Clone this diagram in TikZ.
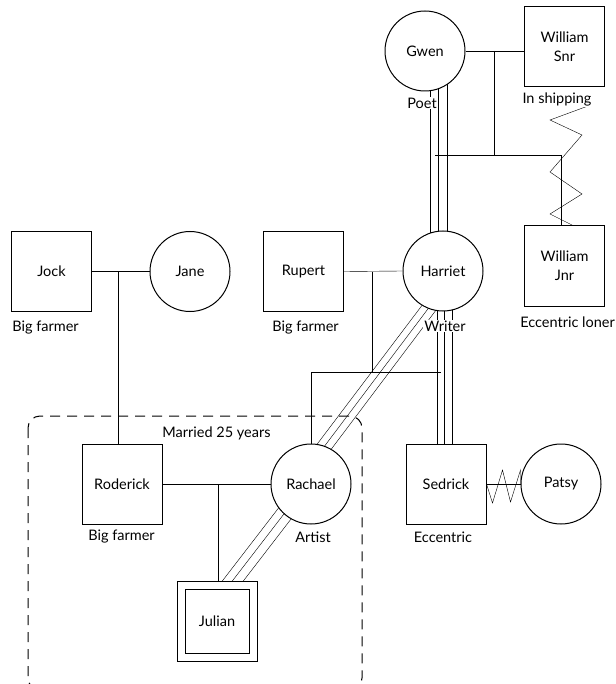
\documentclass[tikz,border=0pt]{standalone}
\usepackage{fontspec}
\setmainfont{Lato}
\usetikzlibrary{backgrounds,calc}
\begin{document}
\begin{tikzpicture}[x=1pt,y=-1pt, line width=1pt,
  every node/.style={font=\fontsize{14.5}{19}\selectfont},
  male/.style={draw, rectangle, minimum size=80pt, inner sep=0pt, fill=white, align=center},
  female/.style={draw, circle, minimum size=80pt, inner sep=0pt, fill=white},
  lab/.style={fill=white, inner sep=1pt},
  boxline/.style={dash pattern=on 10pt off 7pt, rounded corners=12pt, line width=1pt}]
\useasboundingbox (0,0) rectangle (615,684);
% people
\node[female] (gwen) at (425,51) {Gwen};
\node[male] (wsnr) at (564.5,47) {William\\Snr};
\node[female] (harriet) at (443,271) {Harriet};
\node[male] (wjnr) at (564.5,266) {William\\Jnr};
\node[male] (rupert) at (303.5,271.5) {Rupert};
\node[male] (jock) at (51.5,271.5) {Jock};
\node[female] (jane) at (190,271.5) {Jane};
\node[male] (roderick) at (122,484) {Roderick};
\node[female] (rachael) at (311,484) {Rachael};
\node[male] (sedrick) at (446,484) {Sedrick};
\node[female] (patsy) at (561,484) {Patsy};
\node[male] (julian) at (217,621) {};
\node[draw, fill=white, minimum size=64pt, inner sep=0pt] (julianin) at (julian) {Julian};
% labels
\node[lab] (lpoet) at (422,103) {Poet};
\node[lab] (lship) at (557,99) {In shipping};
\node[lab] (ljock) at (45.5,328) {Big farmer};
\node[lab] (lrup) at (305.5,328) {Big farmer};
\node[lab] (lwriter) at (445,326) {Writer};
\node[lab] (lloner) at (567.5,322) {Eccentric loner};
\node[lab] (lmarried) at (216.5,433) {Married 25 years};
\node[lab] (lrod) at (121.5,537) {Big farmer};
\node[lab] (lartist) at (313,537) {Artist};
\node[lab] (lecc) at (443,537) {Eccentric};
% connectors
\begin{scope}[on background layer]
  \draw[boxline] (28,416) rectangle (362,690);
  % Gwen - William Snr
  \draw (gwen.east) -- (gwen.east -| wsnr.west);
  \coordinate (gwm) at ($(gwen.east)!0.5!(gwen.east -| wsnr.west)$);
  \coordinate (sibL) at (435,155);
  \coordinate (sibR) at (561,155);
  \draw[line width=0.7pt] (gwm) -- (gwm |- sibL);
  \draw (sibL) -- (sibR) -- (sibR |- wjnr.north);
  % conflict William Snr - William Jnr
  \coordinate (zz0) at (588,106);
  \draw (zz0) -- (550,120) -- (582,135) -- (550,172) -- (582,194) -- (550,214) -- ([xshift=8.5pt]wjnr.north);
  % Gwen - Harriet (fused)
  \foreach \dx in {5,13,22}
    \draw ([xshift=\dx pt]gwen.center) -- ([xshift=\dx pt]gwen.center |- harriet.center);
  % Harriet - Sedrick (fused)
  \foreach \dx in {-6,1,9}
    \draw ([xshift=\dx pt]harriet.center) -- ([xshift=\dx pt]harriet.center |- sedrick.center);
  % Harriet - Rachael (fused)
  \foreach \a/\b in {5/-24,13.5/-15,22.5/-6}
    \draw ([xshift=\a pt]harriet.center) -- ([xshift=\b pt]rachael.center);
  % Rachael - Julian (fused)
  \foreach \a/\b in {-14/-25.5,-4/-15.5,7/-4.5}
    \draw ([xshift=\a pt]rachael.center) -- ([xshift=\b pt]julian.center);
  % Rupert - Harriet
  \draw (rupert.east) -- (harriet.west);
  \coordinate (rh) at (372,271.5);
  \coordinate (sib2L) at (311,372);
  \coordinate (sib2R) at (441,372);
  \draw (rh) -- (rh |- sib2L);
  \draw (sib2L) -- (sib2R);
  \draw (sib2L) -- (rachael.north);
  % Jock - Jane
  \draw (jock.east) -- (jane.west);
  \coordinate (jj) at (118,271.5);
  \draw (jj) -- (jj |- roderick.north);
  % Roderick - Rachael
  \draw (roderick.east) -- (rachael.west);
  \coordinate (rr) at (218,484);
  \draw (rr) -- (rr |- julian.north);
  % Sedrick - Patsy (conflict)
  \draw (sedrick.east) -- (patsy.west);
  \draw (sedrick.east) -- ++(6,19) -- ++(10,-33) -- ++(8,32) -- ++(10,-32) -- (patsy.west);
\end{scope}
\end{tikzpicture}
\end{document}
